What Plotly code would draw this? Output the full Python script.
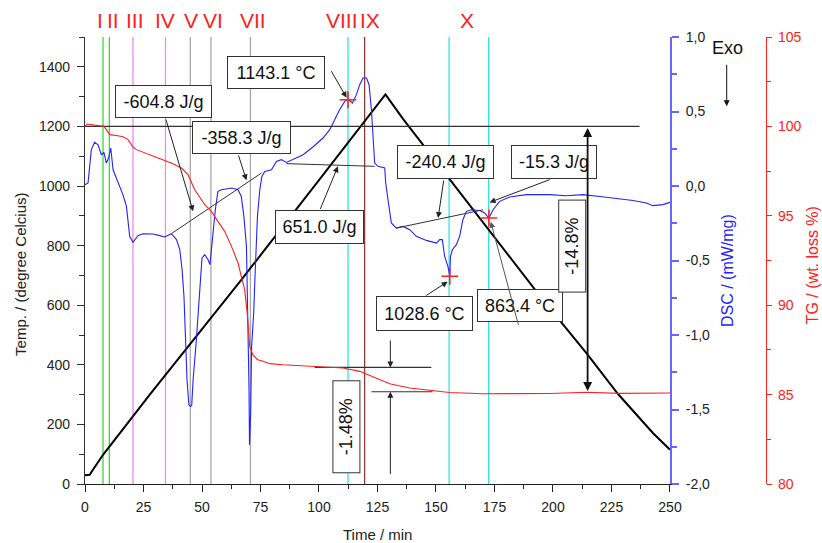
import plotly.graph_objects as go

# ---------------- data ----------------
# temperature programme (left axis, degree C)
temp_t = [0, 2.0, 3.4, 7.7, 27.6, 66.8, 100.0, 128.4, 135.9, 160.0, 195.7, 214.3, 227.8, 242.7, 250.0]
temp_c = [29, 31, 48, 98, 299, 685, 1020, 1307, 1225, 980, 618, 439, 302, 171, 115]

# DSC (mW/mg)
dsc_t = [0, 1.3, 2.7, 4.1, 5.6, 7.0, 8.1, 9.1, 10.1, 11.0,
         12.0, 14.1, 16.2, 17.7, 18.4, 19.1, 20.5, 22.6, 24.8, 29.1,
         31.9, 34.1, 36.9, 39.1, 40.5, 41.5, 42.3, 42.9, 43.2, 43.6,
         44.4, 45.0, 45.6, 46.2, 47.6, 48.7, 49.3, 50.0, 51.2, 52.6,
         53.4, 54.0, 54.7, 55.7, 56.8, 58.3, 62.6, 65.4, 66.8, 67.9,
         69.0, 69.7, 70.0, 70.1, 70.3, 70.8, 71.2, 72.1, 72.6, 73.7,
         74.7, 75.6, 76.8, 79.7, 81.8, 83.9, 86.1, 88.9, 93.2, 97.4,
         101.7, 104.6, 106.7, 108.8, 111.0, 112.4, 114.3, 116.0, 117.4, 118.8,
         120.3, 121.4, 122.4, 123.1, 123.8, 125.2, 128.1, 128.5, 129.5, 130.9,
         133.1, 135.9, 138.8, 141.6, 145.9, 150.2, 151.6, 152.7, 153.7, 155.1,
         155.9, 156.2, 157.0, 158.7, 160.1, 161.5, 163.0, 165.1, 168.7, 170.8,
         172.6, 174.4, 177.2, 181.5, 188.6, 198.6, 205.7, 212.8, 220.0, 227.1,
         234.2, 239.9, 242.7, 247.0, 250.0]
dsc = [0.009, 0.020, 0.244, 0.293, 0.277, 0.210, 0.226, 0.154, 0.188, 0.255,
       0.109, 0.020, -0.058, -0.137, -0.226, -0.338, -0.378, -0.333, -0.320, -0.322,
       -0.333, -0.342, -0.320, -0.360, -0.427, -0.562, -0.741, -0.964, -1.076, -1.300,
       -1.468, -1.479, -1.474, -1.300, -1.032, -0.785, -0.629, -0.483, -0.461, -0.495,
       -0.528, -0.428, -0.294, -0.159, -0.036, -0.025, -0.013, -0.025, -0.070, -0.204,
       -0.405, -0.964, -1.076, -1.367, -1.736, -1.521, -1.076, -0.850, -0.629, -0.204,
       -0.025, 0.064, 0.098, 0.109, 0.165, 0.177, 0.158, 0.177, 0.210, 0.262,
       0.322, 0.378, 0.450, 0.512, 0.568, 0.584, 0.557, 0.613, 0.680, 0.725,
       0.725, 0.680, 0.512, 0.289, 0.154, 0.132, 0.121, 0.020, -0.092, -0.248,
       -0.282, -0.271, -0.293, -0.338, -0.365, -0.383, -0.360, -0.360, -0.472, -0.539,
       -0.606, -0.472, -0.428, -0.394, -0.338, -0.226, -0.170, -0.159, -0.164, -0.181,
       -0.215, -0.159, -0.103, -0.074, -0.058, -0.058, -0.065, -0.058, -0.070, -0.081,
       -0.097, -0.114, -0.132, -0.125, -0.110]

# TG (wt %)
tg_t = [0, 1.0, 4.1, 8.0, 9.1, 10.6, 14.0, 16.2, 18.4, 20.5,
        22.0, 25.5, 31.2, 36.9, 41.2, 44.0, 46.9, 51.2, 54.0, 56.8,
        59.7, 62.6, 65.4, 66.8, 68.2, 69.3, 70.0, 70.4, 71.8, 73.8,
        76.1, 79.0, 84.6, 98.9, 110.3, 117.4, 124.5, 130.2, 138.8, 148.7,
        155.8, 170.1, 198.6, 214.4, 228.5, 250.0]
tg = [100.0, 100.13, 100.07, 100.01, 99.82, 99.54, 99.48, 99.42, 99.26, 98.85,
      98.70, 98.51, 98.23, 97.95, 97.67, 97.30, 96.46, 95.62, 95.25, 94.69,
      94.13, 93.29, 92.36, 91.60, 90.90, 89.60, 88.30, 87.70, 87.20, 86.95,
      86.86, 86.73, 86.67, 86.58, 86.49, 86.30, 85.93, 85.61, 85.37, 85.23,
      85.12, 85.05, 85.06, 85.13, 85.07, 85.09]

# event lines and their labels
event_t = [7.7, 10.4, 20.5, 34.4, 45.0, 53.8, 70.7, 112.4, 119.5, 155.6, 172.5]
event_kind = ["g", "g", "v", "v", "k", "k", "k", "c", "b", "c", "c"]
label_text = ["I", "II", "III", "IV", "V", "VI", "VII", "VIII", "IX", "X"]
label_t = [6.3, 12.0, 21.5, 34.4, 45.1, 54.9, 71.8, 110.0, 121.7, 163.4]

# DSC integration baselines
baseA_t, baseA = [36.9, 75.4], [-0.320, 0.087]
baseB_t, baseB = [86.1, 123.8], [0.150, 0.132]
baseC_t, baseC = [133.1, 170.1], [-0.282, -0.160]

# TG reference lines
tg100_t, tg100 = [0, 237], [100, 100]
step_up_t, step_up = [98.2, 148.0], [86.52, 86.52]
step_lo_t, step_lo = [122.4, 148.5], [85.16, 85.16]

# marked DSC points
peak_t = [112.4, 155.9, 172.6]
peak_dsc = [0.579, -0.606, -0.215]

dsc_tickvals = [-2.0, -1.5, -1.0, -0.5, 0.0, 0.5, 1.0]
dsc_ticktext = ["-2,0", "-1,5", "-1,0", "-0,5", "0,0", "0,5", "1,0"]

# ---------------- styling ----------------
FONT = "Liberation Sans, Arial, sans-serif"
col = {"g": "#33dd33", "v": "#ee88ee", "k": "#a8a8a8", "c": "#30e4e4", "b": "#8b3a3a"}
BLUE = "#2222ff"
AXBLUE = "#6666ff"
RED = "#ff2020"

fig = go.Figure()

for t, k in zip(event_t, event_kind):
    fig.add_shape(type="line", xref="x", yref="paper", x0=t, x1=t, y0=0, y1=1,
                  line=dict(color=col[k], width=1.3), layer="below")

# TG reference lines
for xs, ys in [(tg100_t, tg100), (step_up_t, step_up), (step_lo_t, step_lo)]:
    fig.add_trace(go.Scatter(x=xs, y=ys, yaxis="y3", mode="lines",
                             line=dict(color="#333333", width=1.2), hoverinfo="skip"))

fig.add_trace(go.Scatter(x=tg_t, y=tg, yaxis="y3", mode="lines",
                         line=dict(color=RED, width=1.1)))
fig.add_trace(go.Scatter(x=dsc_t, y=dsc, yaxis="y2", mode="lines",
                         line=dict(color=BLUE, width=1.1)))
for xs, ys in [(baseA_t, baseA), (baseB_t, baseB), (baseC_t, baseC)]:
    fig.add_trace(go.Scatter(x=xs, y=ys, yaxis="y2", mode="lines",
                             line=dict(color="#333333", width=1)))
fig.add_trace(go.Scatter(x=temp_t, y=temp_c, yaxis="y", mode="lines",
                         line=dict(color="black", width=2)))
fig.add_trace(go.Scatter(x=peak_t, y=peak_dsc, yaxis="y2", mode="markers",
                         marker=dict(symbol="cross-thin", size=12,
                                     line=dict(color=RED, width=1.6))))

ann = []
# roman numerals
for txt, t in zip(label_text, label_t):
    ann.append(dict(text=txt, x=t, y=1.037, xref="x", yref="paper", showarrow=False,
                    xanchor="center", yanchor="middle",
                    font=dict(size=21, color=RED, family=FONT)))

# boxed labels (centre position in time / DSC units)
boxes = [
    ("1143.1 °C", 81.8, 0.765, 98, 33),
    ("-604.8 J/g", 33.5, 0.568, 97, 33),
    ("-358.3 J/g", 66.7, 0.324, 99, 33),
    ("651.0 J/g", 100.1, -0.278, 89, 34),
    ("-240.4 J/g", 153.9, 0.163, 97, 34),
    ("-15.3 J/g", 200.5, 0.163, 86, 34),
    ("1028.6 °C", 145.0, -0.858, 97, 35),
    ("863.4 °C", 186.0, -0.803, 86, 33),
]
for txt, x, y, w, h in boxes:
    ann.append(dict(text=txt, x=x, y=y, xref="x", yref="y2", showarrow=False,
                    xanchor="center", yanchor="middle", width=w - 2, height=h - 2,
                    bgcolor="white", bordercolor="#333333", borderwidth=1, borderpad=0,
                    font=dict(size=18, color="#111111", family=FONT)))

# pointer arrows (tail -> head, time / DSC units)
arrows = [
    (104.9, 0.781, 111.8, 0.593, "#222222"),
    (34.4, 0.456, 46.2, -0.170, "#222222"),
    (65.4, 0.215, 69.0, 0.038, "#222222"),
    (100.3, -0.164, 108.1, 0.132, "#222222"),
    (153.4, 0.047, 150.9, -0.215, "#222222"),
    (199.3, 0.047, 172.9, -0.110, "#222222"),
    (145.2, -0.741, 155.0, -0.642, "#222222"),
    (185.4, -0.942, 173.4, -0.240, "#555555"),
]
for ax, ay, x, y, c in arrows:
    ann.append(dict(text="", x=x, y=y, ax=ax, ay=ay, xref="x", yref="y2",
                    axref="x", ayref="y2", showarrow=True, arrowhead=2, arrowsize=1.2,
                    arrowwidth=1, arrowcolor=c))

# TG step boxes (rotated)
for txt, x, y in [("-1.48%", 111.9, 83.22), ("-14.8%", 208.3, 93.3)]:
    ann.append(dict(text=txt, x=x, y=y, xref="x", yref="y3", showarrow=False,
                    xanchor="center", yanchor="middle", textangle=-90, width=91, height=26,
                    bgcolor="white", bordercolor="#333333", borderwidth=1, borderpad=0,
                    font=dict(size=18, color="#111111", family=FONT)))

# TG step arrows
ann.append(dict(text="", x=130.5, y=86.52, ax=130.5, ay=88.11, xref="x", yref="y3",
                axref="x", ayref="y3", showarrow=True, arrowhead=2, arrowsize=1.2,
                arrowwidth=1, arrowcolor="#222222"))
ann.append(dict(text="", x=130.5, y=85.16, ax=130.5, ay=80.48, xref="x", yref="y3",
                axref="x", ayref="y3", showarrow=True, arrowhead=2, arrowsize=1.2,
                arrowwidth=1, arrowcolor="#222222"))
ann.append(dict(text="", x=214.8, y=85.2, ax=214.8, ay=100.0, xref="x", yref="y3",
                axref="x", ayref="y3", showarrow=True, arrowhead=2, arrowsize=1,
                arrowside="end+start", arrowwidth=1.8, arrowcolor="#111111"))

# Exo marker
ann.append(dict(text="Exo", x=0.944, y=0.975, xref="paper", yref="paper", showarrow=False,
                xanchor="center", yanchor="middle", font=dict(size=18, color="#111111", family=FONT)))
ann.append(dict(text="", x=0.9423, y=0.845, ax=0, ay=-43, xref="paper", yref="paper",
                showarrow=True, arrowhead=2, arrowsize=1.2, arrowwidth=1, arrowcolor="#111111"))

# axis titles
ann.append(dict(text="Temp. / (degree Celcius)", x=-0.094, y=0.470, xref="paper", yref="paper",
                textangle=-90, showarrow=False, xanchor="center", yanchor="middle",
                font=dict(size=15, color="#222222", family=FONT)))
ann.append(dict(text="Time / min", x=0.4295, y=-0.112, xref="paper", yref="paper",
                showarrow=False, xanchor="center", yanchor="middle",
                font=dict(size=15, color="#222222", family=FONT)))
ann.append(dict(text="DSC / (mW/mg)", x=0.9446, y=0.477, xref="paper", yref="paper",
                textangle=-90, showarrow=False, xanchor="center", yanchor="middle",
                font=dict(size=16, color=BLUE, family=FONT)))
ann.append(dict(text="TG / (wt. loss %)", x=1.0695, y=0.49, xref="paper", yref="paper",
                textangle=-90, showarrow=False, xanchor="center", yanchor="middle",
                font=dict(size=16, color=RED, family=FONT)))

DOM = [0, 0.859]
fig.update_layout(
    width=822, height=543,
    margin=dict(l=85, r=56, t=37, b=59),
    paper_bgcolor="white", plot_bgcolor="white", showlegend=False,
    font=dict(family=FONT, size=14, color="#222222"),
    annotations=ann,
    xaxis=dict(domain=DOM, range=[0, 250], tickmode="linear", tick0=0, dtick=25,
               ticks="outside", ticklen=7, tickwidth=1, tickcolor="#222222",
               showline=True, linecolor="#222222", linewidth=1.3,
               showgrid=False, zeroline=False, ticklabelstandoff=3,
               tickfont=dict(size=14, color="#222222"),
               minor=dict(tickmode="linear", tick0=0, dtick=12.5, ticks="outside",
                          ticklen=4, tickcolor="#222222", showgrid=False)),
    xaxis2=dict(domain=DOM, range=[0, 250], overlaying="x", side="top", anchor="y",
                tickmode="linear", tick0=0, dtick=25, ticks="inside", ticklen=7,
                tickcolor="#222222", showticklabels=False, showline=True,
                linecolor="#222222", linewidth=1.3, showgrid=False, zeroline=False,
                minor=dict(tickmode="linear", tick0=0, dtick=12.5, ticks="inside",
                           ticklen=4, tickcolor="#222222", showgrid=False)),
    yaxis=dict(range=[0, 1500], tickmode="linear", tick0=0, dtick=200,
               ticks="outside", ticklen=7, tickcolor="#333333",
               showline=True, linecolor="#333333", linewidth=1.3,
               showgrid=False, zeroline=False, ticklabelstandoff=4,
               tickfont=dict(size=14, color="#222222"),
               minor=dict(tickmode="linear", tick0=0, dtick=100, ticks="outside",
                          ticklen=5, tickcolor="#333333", showgrid=False)),
    yaxis2=dict(range=[-2, 1], overlaying="y", side="right", anchor="x",
                tickmode="array", tickvals=dsc_tickvals, ticktext=dsc_ticktext,
                ticks="outside", ticklen=7, tickwidth=1.5, tickcolor=AXBLUE,
                showline=True, linecolor=AXBLUE, linewidth=2,
                showgrid=False, zeroline=False, ticklabelstandoff=4,
                tickfont=dict(size=14, color="#222222"),
                minor=dict(tickmode="linear", tick0=0, dtick=0.25, ticks="outside",
                           ticklen=5, tickcolor=AXBLUE, showgrid=False)),
    yaxis3=dict(range=[80, 105], overlaying="y", side="right", anchor="free", position=1.0,
                tickmode="linear", tick0=80, dtick=5,
                ticks="outside", ticklen=5, tickcolor=RED,
                showline=True, linecolor=RED, linewidth=1.3,
                showgrid=False, zeroline=False, ticklabelstandoff=3,
                tickfont=dict(size=14, color=RED),
                minor=dict(tickmode="linear", tick0=80, dtick=2.5, ticks="outside",
                           ticklen=4, tickcolor=RED, showgrid=False)),
)

fig.write_html("out.html")
